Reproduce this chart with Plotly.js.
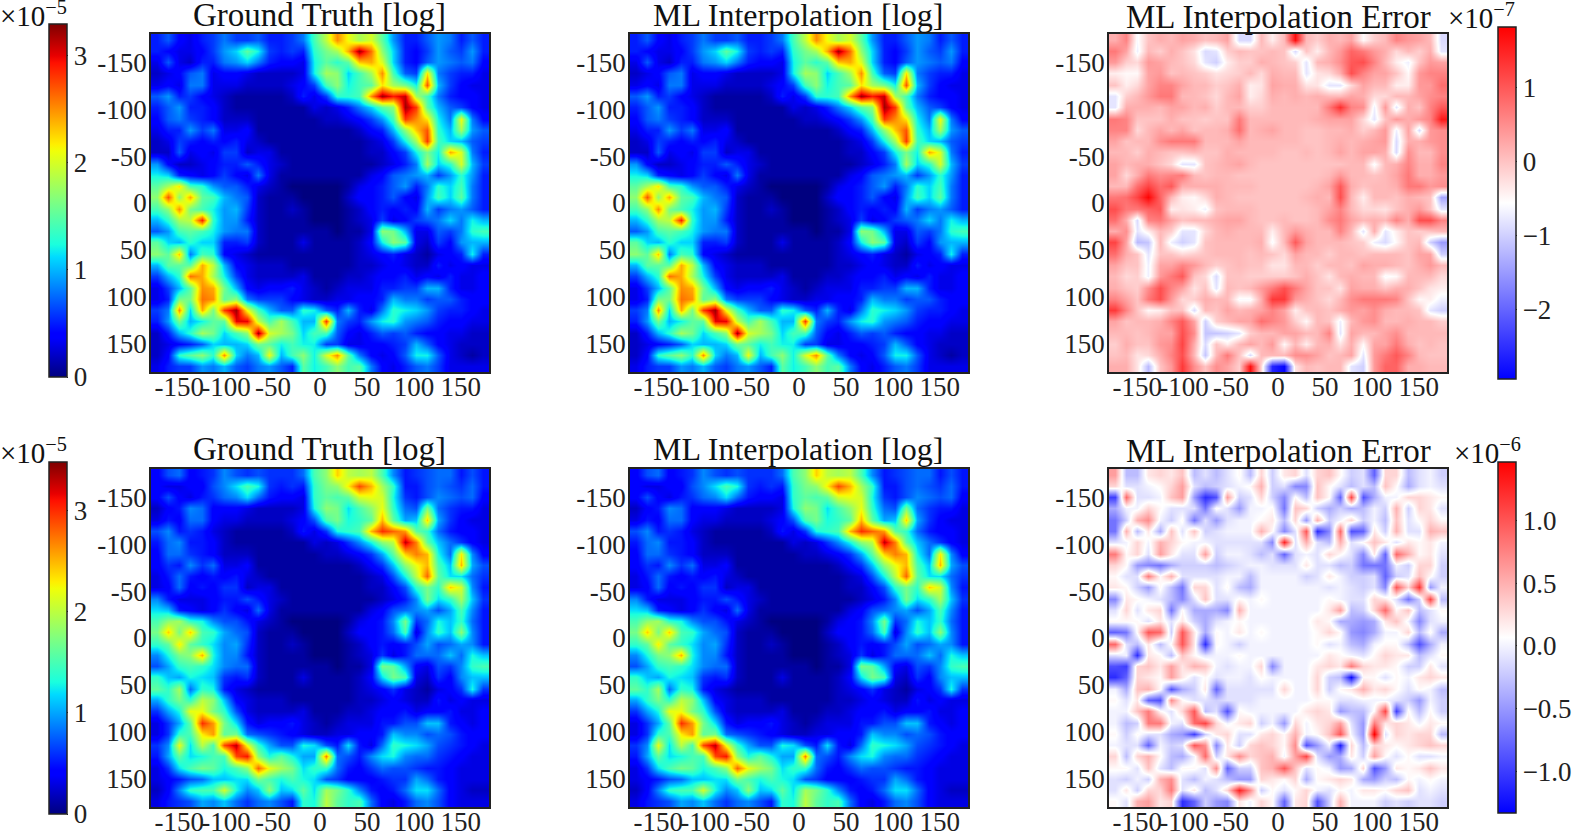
<!DOCTYPE html>
<html>
<head>
<meta charset="utf-8">
<script src="https://cdn.plot.ly/plotly-3.0.1.min.js"></script>
<style>
  html, body { margin: 0; padding: 0; background: #fff; }
  #chart { width: 1578px; height: 832px; }
</style>
</head>
<body>
<div id="chart"></div>
<script>
// cell centres, same for x and y
var coords = [-174,-162,-150,-138,-126,-114,-102,-90,-78,-66,-54,-42,-30,-18,-6,6,18,30,42,54,66,78,90,102,114,126,138,150,162,174];
var tickVals = [-150,-100,-50,0,50,100,150];
var tickText = ['-150','-100','-50','0','50','100','150'];

// values, in tenths of the colourbar unit
var truthTop = [
[5,7,4,3,5,6,8,6,6,7,5,5,6,8,14,19,25,21,18,20,15,9,5,5,7,9,8,5,7,5],
[5,4,3,3,4,6,9,11,15,12,6,5,6,5,13,16,18,24,32,26,17,11,5,4,6,9,7,6,9,5],
[3,7,3,2,5,5,8,9,11,8,5,4,4,3,12,15,13,15,23,24,20,11,5,4,7,9,8,7,8,4],
[2,3,4,7,8,3,4,4,3,2,2,2,2,3,12,18,17,11,14,18,25,14,7,6,22,8,6,5,5,3],
[3,4,3,8,8,3,3,3,2,2,2,2,3,4,6,14,17,12,14,15,22,18,16,12,27,10,6,4,3,3],
[7,9,5,6,4,3,2,1,1,1,1,1,2,5,3,6,13,13,14,25,32,29,31,18,14,8,5,4,4,3],
[5,7,9,5,5,4,2,1,1,1,1,1,1,1,3,2,3,5,8,11,15,17,32,28,15,10,7,6,4,3],
[4,7,8,6,5,4,2,2,2,1,1,1,1,1,1,2,2,3,4,6,9,14,28,25,22,12,8,21,8,4],
[3,5,5,9,6,8,3,3,4,1,1,1,1,1,1,1,1,1,2,4,5,10,17,23,27,13,10,18,9,7],
[2,3,6,5,4,5,4,5,3,2,1,1,1,1,1,1,1,1,1,2,3,6,12,18,28,14,11,10,7,6],
[2,2,7,3,4,3,6,6,2,3,3,1,1,1,1,1,1,1,1,2,2,4,6,12,16,12,24,20,8,5],
[9,4,2,2,3,4,5,5,7,5,3,2,1,1,1,1,1,1,1,1,2,3,5,8,18,11,13,20,10,6],
[12,11,5,4,3,4,6,4,3,8,3,1,1,1,1,1,1,1,1,3,4,7,8,9,10,6,9,13,9,5],
[15,18,22,14,13,9,7,7,5,3,2,1,0,0,0,0,0,1,3,4,5,7,9,5,8,13,11,14,8,5],
[17,27,17,24,15,14,10,8,7,2,1,1,1,0,0,0,0,2,4,4,5,7,4,3,9,14,11,15,8,5],
[14,17,25,16,14,12,9,10,6,2,1,1,2,1,0,0,0,1,2,4,5,4,5,4,10,6,8,9,7,5],
[10,13,18,19,29,13,9,9,5,2,1,1,1,1,0,0,0,1,2,3,6,3,4,6,7,8,11,8,12,10],
[7,9,14,15,14,12,9,8,8,2,1,1,1,1,1,1,0,1,1,3,17,16,10,3,3,7,6,8,13,14],
[15,11,10,13,11,11,5,5,6,2,1,1,1,3,1,1,1,1,2,4,12,17,15,3,2,6,4,9,10,10],
[17,15,23,8,14,13,4,3,2,1,1,1,1,1,1,1,1,1,2,3,4,5,3,2,1,3,4,5,12,5],
[10,15,15,15,24,19,10,4,3,2,2,2,1,1,1,1,1,1,2,2,3,4,3,2,2,5,3,4,3,3],
[6,10,13,26,24,18,12,6,3,2,2,2,2,3,1,1,1,2,2,3,4,4,5,3,4,3,5,3,3,4],
[3,6,10,15,25,24,16,10,4,3,4,4,5,3,2,1,2,3,3,3,5,5,6,6,10,10,5,3,3,4],
[3,5,16,16,26,25,15,17,8,6,6,6,4,3,2,2,3,3,4,4,5,10,8,8,6,7,7,5,4,4],
[6,8,25,11,24,16,28,32,21,14,10,7,7,13,12,7,5,10,5,3,8,13,12,11,9,6,5,5,4,3],
[5,9,16,10,12,15,15,30,30,19,14,18,14,10,10,28,8,6,5,9,12,13,9,8,7,5,4,4,3,3],
[2,5,10,13,18,16,11,14,17,32,20,18,16,11,14,14,7,4,3,5,7,6,7,5,4,4,3,3,2,2],
[2,3,4,5,7,11,10,10,11,16,15,12,14,12,12,6,6,3,3,4,4,5,6,10,7,4,3,2,2,2],
[2,4,13,15,17,13,25,11,8,10,21,10,14,17,12,20,25,15,8,4,3,4,7,12,12,7,3,2,1,2],
[3,5,6,6,9,8,10,7,6,8,9,7,5,15,12,14,17,14,15,8,4,3,5,7,8,6,3,3,3,3]
];

var truthBottom = [
[4,7,8,4,5,6,9,7,6,7,6,6,6,8,15,18,24,20,19,20,15,9,5,6,7,8,8,5,7,5],
[4,3,3,4,4,7,9,12,15,13,6,5,6,5,14,17,18,23,29,25,19,14,5,5,7,8,7,6,8,5],
[4,7,4,3,5,6,8,9,12,8,5,4,4,3,14,16,15,16,21,22,21,13,6,5,7,9,8,7,8,4],
[2,4,5,9,8,4,4,4,3,2,2,2,2,3,13,18,17,12,15,18,22,14,8,7,17,8,6,5,5,3],
[3,5,4,8,8,4,3,3,2,2,2,2,3,4,7,15,17,13,14,16,25,16,10,11,24,10,6,4,3,3],
[7,9,5,6,5,3,2,1,1,1,1,1,2,5,3,6,13,14,15,25,30,28,26,16,14,8,5,4,4,3],
[5,8,9,5,5,4,2,1,1,1,1,1,1,1,3,2,3,6,9,13,18,20,33,27,16,11,8,6,4,3],
[4,8,8,6,5,4,2,2,2,1,1,1,1,1,1,2,2,3,4,6,10,16,24,27,25,13,8,23,9,4],
[4,6,5,9,6,8,3,3,4,1,1,1,1,1,1,1,1,1,2,4,6,11,18,22,25,15,11,25,10,7],
[3,5,8,5,4,5,4,5,3,2,1,1,1,1,1,1,1,1,1,2,3,7,13,20,28,16,12,12,8,6],
[3,4,8,4,5,4,6,6,2,3,3,1,1,1,1,1,1,1,1,2,2,4,7,14,17,14,24,21,9,5],
[9,5,3,3,3,4,5,5,7,5,3,2,1,1,1,1,1,1,1,1,2,3,5,9,17,12,14,19,11,6],
[12,11,5,4,3,4,6,4,3,8,3,1,1,1,1,1,1,1,1,3,4,7,8,9,10,7,10,15,9,5],
[15,18,19,14,13,9,7,7,5,3,2,1,0,0,0,0,0,1,3,4,5,9,17,6,8,13,11,14,8,5],
[17,24,17,24,15,14,10,8,7,2,1,1,1,0,0,0,0,2,4,4,5,8,15,3,9,14,11,18,9,5],
[14,16,23,16,14,12,9,10,6,2,1,1,2,1,0,0,0,1,2,4,5,4,5,7,10,7,8,10,9,5],
[9,13,17,18,25,13,9,9,5,2,1,1,1,1,0,0,0,1,2,3,6,3,5,8,8,8,11,8,13,11],
[7,10,14,15,14,12,9,8,8,2,1,1,1,1,1,1,0,1,1,3,17,16,10,4,3,7,6,9,14,15],
[14,11,10,13,12,11,6,5,6,2,1,1,1,3,1,1,1,1,2,4,12,17,15,3,2,6,4,9,11,11],
[16,14,19,8,14,13,5,3,2,1,1,1,1,1,1,1,1,1,2,3,4,6,3,2,1,3,4,6,13,6],
[10,14,17,14,20,18,11,4,3,2,2,2,1,1,1,1,1,1,2,2,3,4,3,2,2,5,3,4,3,3],
[6,10,13,22,22,17,14,7,3,2,2,2,2,3,1,1,1,2,2,3,4,4,5,3,4,4,5,3,3,4],
[3,6,10,16,30,26,17,12,5,3,4,4,5,3,2,1,2,3,3,3,5,5,7,7,11,11,5,4,3,4],
[3,6,14,15,23,26,16,17,8,7,6,5,4,3,2,2,3,3,4,4,5,11,9,9,7,8,7,5,4,4],
[6,9,22,12,20,15,29,33,22,14,10,7,7,13,12,7,5,12,5,3,8,14,13,12,10,7,6,5,4,3],
[5,10,16,12,13,15,15,29,31,18,13,16,13,10,10,27,8,7,5,9,12,13,9,8,8,6,5,4,3,3],
[3,6,12,15,17,16,13,15,18,28,22,19,17,12,14,14,8,5,4,6,8,7,7,6,5,5,4,3,3,3],
[3,4,5,7,8,11,11,12,12,17,15,13,15,13,12,7,6,4,4,4,5,6,6,10,8,5,4,3,3,3],
[2,4,9,14,15,15,21,13,9,11,18,11,12,16,12,19,17,14,9,5,4,5,8,12,12,8,4,3,2,2],
[3,5,6,7,10,9,11,8,6,8,9,7,5,14,13,20,16,14,15,8,4,3,5,8,9,7,4,3,3,3]
];

// the ML panels can't be told apart from the truth panels by eye
var mlTop = truthTop;
var mlBottom = truthBottom;

var errorTop = [
[2,6,-6,0,2,1,3,2,0,1,3,-9,-9,1,-4,1,17,1,-1,2,1,3,-5,-1,1,6,4,3,1,-9],
[7,3,-7,1,-1,2,0,-3,-9,-8,-1,1,0,0,1,0,-9,0,-4,1,4,9,7,4,2,-2,1,-1,2,-8],
[4,-1,-2,4,3,1,0,-2,-8,-10,-4,-1,-1,2,1,0,-1,-8,1,2,5,10,11,6,1,-4,-7,0,4,3],
[-4,-5,-5,3,4,0,1,0,-1,-3,-2,-1,1,-2,2,1,1,-8,-3,-2,2,11,6,3,3,0,-5,4,6,6],
[0,-4,-2,3,6,6,3,1,1,-1,0,2,-4,-3,3,2,2,-3,-3,-8,-8,-2,3,1,1,-4,-4,4,4,8],
[-8,-1,1,4,7,7,1,1,0,-2,1,3,-4,-2,2,1,2,1,2,1,1,3,2,-2,-2,1,1,3,5,6],
[-8,2,2,2,1,3,3,1,2,-1,1,1,-1,-1,1,1,1,1,1,7,14,6,5,-7,4,-8,2,0,6,10],
[7,6,0,0,0,2,0,0,-1,0,0,7,1,1,1,1,1,1,2,3,3,3,-2,-8,0,4,2,4,6,16],
[6,6,-2,1,3,1,3,0,1,1,2,8,1,2,3,1,1,0,0,1,1,2,-1,1,4,-7,3,-9,4,5],
[3,0,1,1,5,7,7,7,1,1,1,3,1,1,1,1,1,0,0,1,2,1,2,3,4,-9,2,2,4,5],
[1,1,-1,2,1,0,0,1,0,0,2,1,1,1,1,0,0,1,0,1,3,1,3,3,2,-9,5,1,1,5],
[3,1,2,2,0,-2,-8,-8,0,1,2,3,1,0,0,0,0,0,0,0,0,1,1,-6,1,2,6,2,2,6],
[3,-2,2,7,5,6,7,1,0,1,1,0,0,0,0,0,0,0,0,1,4,1,1,0,1,3,7,2,2,4],
[1,1,8,12,8,10,2,2,2,2,1,1,1,0,0,0,0,0,1,3,10,2,0,1,1,2,7,7,4,5],
[7,8,12,18,9,1,-4,-5,-2,2,1,0,0,0,0,0,0,1,2,1,11,1,-4,1,1,0,2,1,0,-14],
[11,7,7,9,10,-4,-3,-4,-7,0,1,1,1,0,0,0,0,0,1,3,6,1,-2,-2,-3,0,2,4,0,-8],
[8,2,-9,6,7,3,0,1,1,2,3,3,1,0,0,1,0,0,1,5,7,3,1,2,1,6,2,11,11,6],
[2,5,-8,-4,1,-1,-8,-8,-2,1,2,1,1,1,-4,1,4,2,1,1,6,1,-8,2,-8,-4,0,-1,0,1],
[12,3,-12,-11,1,-7,-10,-8,0,1,1,1,1,2,-6,1,10,3,1,1,1,0,-1,-7,-9,-5,0,1,-10,-15],
[8,2,0,-8,0,0,-2,-1,0,1,1,1,0,1,0,-2,3,1,1,-1,1,1,0,1,1,1,0,3,3,-10],
[3,0,0,-7,3,3,6,4,1,-1,0,1,0,0,-3,-3,1,1,-1,1,1,0,3,2,2,1,0,2,4,1],
[1,-2,-1,-7,4,7,10,0,-2,-9,0,0,-1,-1,-1,-1,0,2,0,-3,1,2,1,1,-6,-5,1,1,1,-2],
[2,0,-1,5,11,6,3,-3,0,-8,1,0,1,4,7,11,7,3,0,0,-3,3,2,2,0,2,2,0,-3,-4],
[6,3,0,7,11,4,-2,-1,2,1,1,-6,-6,2,13,13,4,2,0,-2,1,5,7,7,7,6,0,-5,-4,-7],
[13,6,0,-5,-4,0,0,-9,1,0,3,1,2,3,6,3,-4,0,1,0,2,4,3,5,2,1,1,0,-8,-10],
[3,0,1,1,2,6,10,3,-10,-1,1,3,3,8,6,4,-1,-5,1,0,-7,1,4,5,1,1,2,1,1,-1],
[1,1,0,1,3,3,11,5,-11,-11,-10,-8,-1,1,1,3,3,1,1,6,-8,3,1,1,3,5,1,1,1,1],
[-1,2,0,0,4,5,12,2,-9,0,-4,1,3,1,4,-5,1,-4,1,2,-3,2,-5,3,3,7,2,0,1,0],
[0,1,-3,-2,2,6,11,1,-11,1,7,0,-9,1,1,1,5,5,3,0,1,3,-8,4,7,10,6,1,0,0],
[2,2,-3,-12,0,4,13,5,0,5,3,-1,17,-2,-26,-29,-3,1,0,1,1,-8,-10,4,9,9,2,2,1,1]
];

var errorBottom = [
[6,-3,-3,2,3,2,4,-3,-1,-3,-1,1,-3,3,-2,2,3,-1,3,4,1,-2,-1,-8,3,3,-3,-1,0,-2],
[3,-1,-1,0,1,3,6,-1,-3,-2,-1,0,1,5,-2,-1,-6,-6,4,1,-1,-3,-1,-3,4,1,-4,-1,0,-1],
[-10,9,-1,-1,0,4,6,-5,-11,-9,6,-2,-1,3,-2,-6,1,-3,4,1,-8,11,-9,-4,0,0,3,3,2,1],
[-4,0,0,3,1,-1,-1,-1,-7,1,-1,-5,0,0,1,-7,4,3,-2,-4,-2,-4,-3,0,-2,5,-2,3,2,-1],
[-7,-2,5,7,0,-2,1,-7,-1,-5,-1,0,0,1,2,-3,3,-5,5,-2,0,3,-2,0,-3,4,-1,1,3,1],
[-7,5,-3,2,-4,4,-1,4,-2,-1,0,0,0,5,1,-6,-1,10,-11,-6,9,-9,-8,2,-2,5,-1,-1,5,4],
[-1,0,3,0,5,3,1,0,0,-1,-1,-1,-1,-1,-6,13,-1,5,-1,-3,5,-1,1,4,2,-1,2,1,2,0],
[8,1,3,-1,6,2,-1,-1,6,-2,0,0,-1,-3,-1,-8,-1,0,-1,3,1,-1,-6,2,-8,9,5,1,2,-1],
[3,1,-5,-6,-7,-4,-2,-2,-2,-3,-2,-1,0,0,-1,-1,-1,2,-1,-1,-3,-2,-7,-7,-7,0,-2,3,3,-2],
[1,-1,-1,8,1,5,-1,-1,-1,-1,0,0,-3,0,0,0,0,-2,-1,2,0,-2,-2,-1,-8,-2,-1,4,1,-2],
[2,1,-2,-5,1,-3,-7,3,3,-1,1,-3,-4,0,0,0,0,0,0,-1,0,-1,-2,-1,-6,10,3,12,-5,0],
[-6,2,1,0,-1,-3,-6,-1,4,-1,-1,1,0,1,0,0,0,0,0,1,0,-1,-1,3,2,-1,-7,-2,11,-3],
[-1,3,-1,2,3,-7,1,-4,-4,-4,-6,5,0,0,0,0,0,0,0,2,6,-3,-2,3,9,1,4,-3,-1,1],
[1,1,1,-1,2,-1,2,-2,-4,-1,0,1,0,0,0,0,0,0,2,1,-4,-4,-5,-4,2,4,0,-6,-1,0],
[-8,-7,1,10,9,-2,10,2,-4,1,0,2,0,1,0,0,0,0,1,3,1,-5,-6,-4,0,0,3,-3,1,-4],
[9,-1,-3,2,-3,1,10,2,-11,1,0,-2,0,0,0,0,0,0,1,-1,0,-3,-4,0,1,1,-3,-9,-4,0],
[-1,0,-11,2,1,-3,4,1,-1,0,0,1,0,0,0,0,0,0,0,2,1,0,-1,1,3,2,2,-3,-1,1],
[-9,-10,3,4,2,6,2,5,4,0,-1,0,0,3,-6,0,0,0,2,3,2,8,3,2,2,1,-2,-2,2,-1],
[-11,-8,3,2,1,6,2,-1,1,-1,0,0,-1,1,0,0,0,0,3,-2,-3,-13,1,1,-1,1,0,2,3,2],
[0,-4,4,5,1,-9,-4,-2,2,-8,-1,-1,-1,-1,-1,3,0,0,3,-2,1,2,5,2,3,1,-1,1,0,-3],
[1,-1,2,-8,-9,7,1,-1,-1,-2,-1,-1,-1,0,0,0,0,0,1,1,-1,-1,0,0,0,-1,-2,-5,0,-2],
[0,0,4,8,1,-1,3,10,-3,-1,-9,1,0,0,0,0,0,2,3,2,-5,-3,-3,1,11,-10,1,-3,1,-2],
[0,-3,-2,8,8,0,-1,9,11,3,0,2,3,-2,0,-5,3,0,2,3,6,-1,-5,8,2,3,2,0,2,1],
[1,-2,1,-1,-1,-4,-5,-10,-2,2,3,-1,-1,2,3,1,5,0,1,4,10,0,-5,15,-1,3,2,3,3,-3],
[0,-1,-1,-8,0,-2,-1,10,7,-6,2,-2,3,4,3,1,7,-9,-5,0,-12,3,-3,3,2,1,2,3,4,3],
[3,-3,3,5,1,-3,-4,0,9,-2,2,7,3,4,5,0,6,11,-1,-5,-4,2,-2,6,1,-1,1,-1,-1,0],
[1,1,-1,4,-1,-3,1,1,-1,7,-8,-2,-2,4,5,10,4,-1,1,0,-5,-4,3,-9,-5,2,1,2,4,2],
[-1,-2,0,-2,5,7,-1,-3,0,-1,-3,-5,-5,3,2,1,3,-4,1,2,3,2,-4,-5,-2,-3,1,0,1,0],
[-1,2,-2,3,3,8,-1,2,-3,-1,3,13,7,-2,1,-1,1,3,0,-1,1,0,2,2,1,3,4,-1,0,-1],
[1,-1,5,6,2,3,-11,-8,-2,-5,-6,2,0,3,1,-8,2,3,-9,-2,5,0,0,0,-2,-1,-2,-1,-1,-2]
];

// matplotlib jet and bwr, plotly's own Jet is different
var jet = [
  [0, '#00007f'], [0.11, '#0000ff'], [0.125, '#0000ff'], [0.34, '#00dbff'],
  [0.375, '#1affde'], [0.5, '#80ff7f'], [0.64, '#f0ff08'], [0.66, '#ffee00'],
  [0.89, '#ff1000'], [0.91, '#e80000'], [1, '#7f0000']
];
var bwr = [[0, '#0000ff'], [0.5, '#ffffff'], [1, '#ff0000']];

var W = 1578, H = 832;
var serif = '"Liberation Serif", "DejaVu Serif", serif';
var ink = '#222222';

function tenths(rows) {
  return rows.map(function (r) { return r.map(function (v) { return v / 10; }); });
}

// panel boxes in pixels, easier to check against the picture
var colsPx = [[151, 489], [630, 968], [1109, 1447]];
var rowsPx = [[34, 372], [469, 807]];

var panels = [
  { z: truthTop, zmin: 0, zmax: 3.29, scale: jet, row: 0, col: 0,
    bar: { left: 49, top: 24, bottom: 377, vals: [0, 1, 2, 3], text: ['0', '1', '2', '3'] } },
  { z: mlTop, zmin: 0, zmax: 3.29, scale: jet, row: 0, col: 1 },
  { z: errorTop, zmin: -2.94, zmax: 1.825, scale: bwr, row: 0, col: 2,
    bar: { left: 1498, top: 27, bottom: 379, vals: [-2, -1, 0, 1], text: ['\u22122', '\u22121', '0', '1'] } },
  { z: truthBottom, zmin: 0, zmax: 3.48, scale: jet, row: 1, col: 0,
    bar: { left: 49, top: 462, bottom: 814, vals: [0, 1, 2, 3], text: ['0', '1', '2', '3'] } },
  { z: mlBottom, zmin: 0, zmax: 3.48, scale: jet, row: 1, col: 1 },
  { z: errorBottom, zmin: -1.335, zmax: 1.47, scale: bwr, row: 1, col: 2,
    bar: { left: 1498, top: 462, bottom: 813, vals: [-1, -0.5, 0, 0.5, 1],
           text: ['\u22121.0', '\u22120.5', '0.0', '0.5', '1.0'] } }
];

var layout = {
  width: W, height: H,
  margin: { l: 0, r: 0, t: 0, b: 0, autoexpand: false },
  paper_bgcolor: '#fff', plot_bgcolor: '#fff',
  showlegend: false,
  font: { family: serif, size: 27, color: ink },
  annotations: []
};
var data = [];

panels.forEach(function (p, i) {
  var n = i === 0 ? '' : String(i + 1);
  var c = colsPx[p.col], r = rowsPx[p.row];
  var axis = {
    tickmode: 'array', tickvals: tickVals, ticktext: tickText,
    ticks: '', showgrid: false, zeroline: false,
    showline: true, mirror: true, linecolor: ink, linewidth: 1.5,
    tickangle: 0,
    tickfont: { family: serif, size: 27, color: ink }
  };
  layout['xaxis' + n] = Object.assign({}, axis, {
    domain: [c[0] / W, c[1] / W], range: [-180, 180], anchor: 'y' + n, ticklabelstandoff: -10
  });
  layout['yaxis' + n] = Object.assign({}, axis, {
    domain: [1 - r[1] / H, 1 - r[0] / H], range: [180, -180], anchor: 'x' + n, ticklabelstandoff: -3
  });
  var trace = {
    type: 'heatmap', x: coords, y: coords, z: tenths(p.z),
    xaxis: 'x' + n, yaxis: 'y' + n,
    zmin: p.zmin, zmax: p.zmax, colorscale: p.scale, zsmooth: 'best',
    showscale: !!p.bar, hoverinfo: 'skip'
  };
  if (p.bar) {
    trace.colorbar = {
      x: p.bar.left / W, xanchor: 'left', xpad: 0,
      y: 1 - p.bar.bottom / H, yanchor: 'bottom', ypad: 0,
      lenmode: 'pixels', len: p.bar.bottom - p.bar.top,
      thicknessmode: 'pixels', thickness: 18,
      outlinecolor: ink, outlinewidth: 1.5, borderwidth: 0,
      tickmode: 'array', tickvals: p.bar.vals, ticktext: p.bar.text,
      ticks: 'outside', ticklen: 1, tickcolor: ink, tickwidth: 1,
      tickfont: { family: serif, size: 27, color: ink }
    };
  }
  data.push(trace);
});

// titles and the colourbar multipliers
function note(text, xPx, yPx, size) {
  layout.annotations.push({
    text: text, xref: 'paper', yref: 'paper', x: xPx / W, y: 1 - yPx / H,
    xanchor: 'center', yanchor: 'middle', showarrow: false,
    font: { family: serif, size: size, color: '#111' }
  });
}
note('Ground Truth [log]', 319, 15, 33);
note('ML Interpolation [log]', 798, 15, 32);
note('ML Interpolation Error', 1278, 17, 33);
note('Ground Truth [log]', 319, 449, 33);
note('ML Interpolation [log]', 798, 449, 32);
note('ML Interpolation Error', 1278, 451, 33);
note('\u00d710<sup>\u22125</sup>', 33, 14, 29);
note('\u00d710<sup>\u22127</sup>', 1481, 16, 29);
note('\u00d710<sup>\u22125</sup>', 33, 451, 29);
note('\u00d710<sup>\u22126</sup>', 1487, 451, 29);

Plotly.newPlot('chart', data, layout, { displayModeBar: false, responsive: false });
</script>
</body>
</html>
